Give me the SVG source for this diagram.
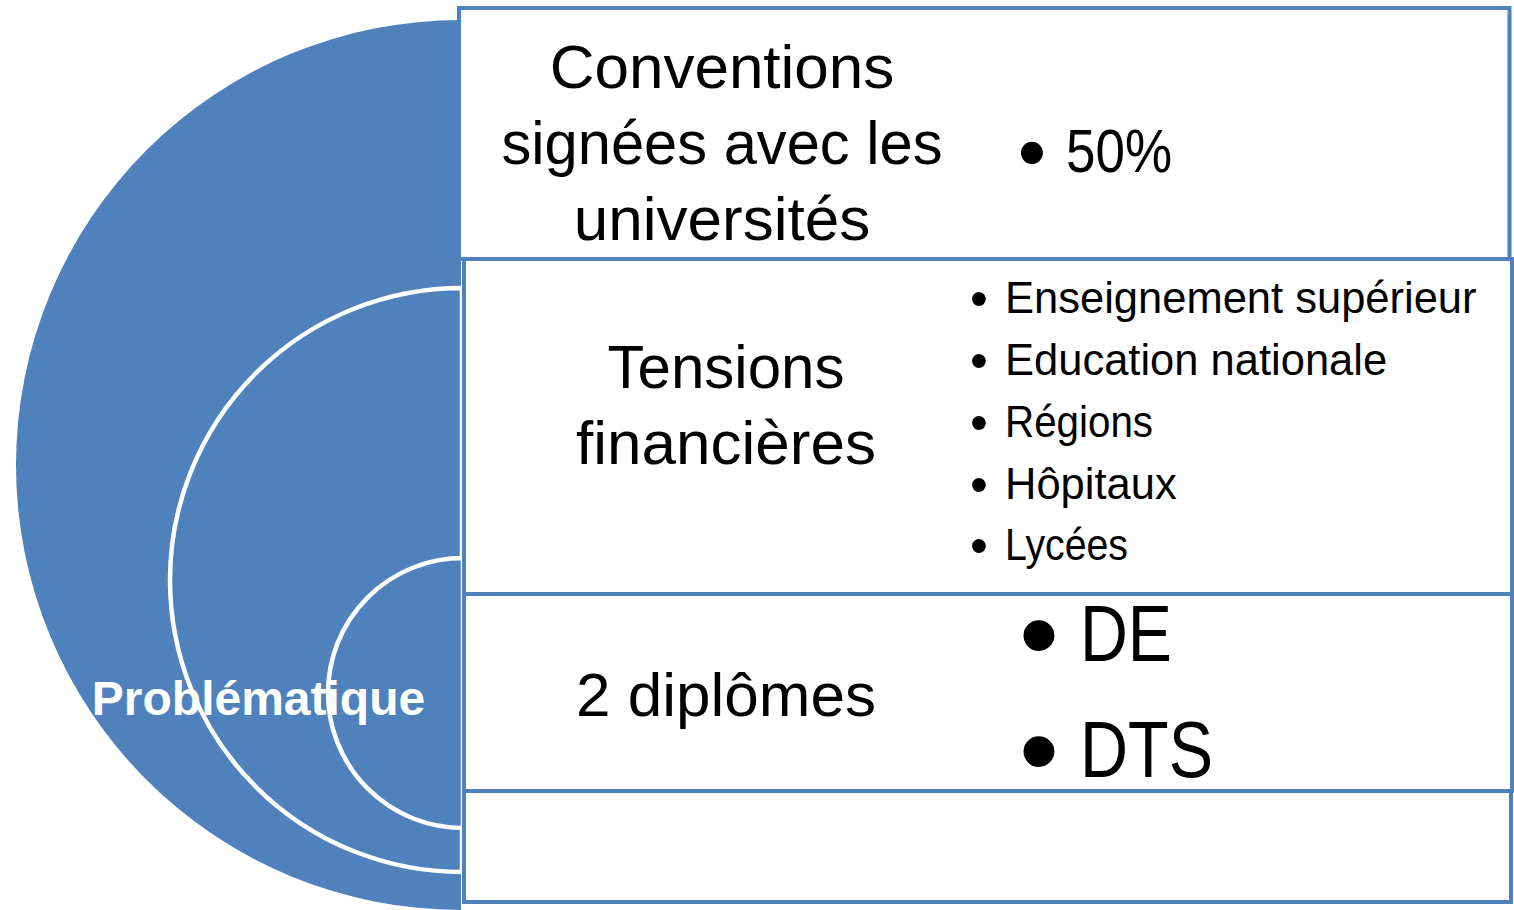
<svg xmlns="http://www.w3.org/2000/svg" width="1514" height="910" viewBox="0 0 1514 910">
  <style>
    .disc { fill: #4F81BD; }
    .ring { fill: #4F81BD; stroke: #FFFFFF; stroke-width: 4.5; }
    .box { fill: #FFFFFF; stroke: #4F81BD; stroke-width: 4; }
    .t { font-family: "Liberation Sans", Arial, sans-serif; fill: #000000; }
    .title { font-size: 62px; text-anchor: middle; }
    .item { font-size: 43.5px; }
    .ib { font-size: 51px; text-anchor: middle; }
    .lbl { font-family: "Liberation Sans", Arial, sans-serif; font-weight: bold; font-size: 48px; fill: #FFFFFF; text-anchor: middle; }
    .b { text-anchor: middle; }
  </style>
  <rect width="1514" height="910" fill="#FFFFFF"/>
  <g id="arcs">
    <path class="disc" d="M 461 20 A 445 445 0 0 0 461 910 Z"/>
    <path class="ring" d="M 462 288 A 292 292 0 0 0 462 872 Z"/>
    <path class="ring" d="M 463 558 A 135 135 0 0 0 463 828 Z"/>
  </g>
  <g id="node-conventions">
    <rect class="box" x="459" y="8" width="1050.5" height="251"/>
    <text class="t title" x="722" y="88">Conventions</text>
    <text class="t title" x="722" y="164" textLength="441" lengthAdjust="spacingAndGlyphs">signées avec les</text>
    <text class="t title" x="722" y="240">universités</text>
    <text class="t b" x="1032" y="180" font-size="81">•</text>
    <text class="t" x="1066" y="172" font-size="62" textLength="106" lengthAdjust="spacingAndGlyphs">50%</text>
  </g>
  <g id="node-tensions">
    <rect class="box" x="464" y="259" width="1048" height="335"/>
    <text class="t title" x="726" y="388" textLength="237" lengthAdjust="spacingAndGlyphs">Tensions</text>
    <text class="t title" x="726" y="464">financières</text>
    <text class="t ib" x="979" y="316">•</text>
    <text class="t item" x="1005" y="313">Enseignement supérieur</text>
    <text class="t ib" x="979" y="378">•</text>
    <text class="t item" x="1005" y="375">Education nationale</text>
    <text class="t ib" x="979" y="440">•</text>
    <text class="t item" x="1005" y="437" textLength="148" lengthAdjust="spacingAndGlyphs">Régions</text>
    <text class="t ib" x="979" y="502">•</text>
    <text class="t item" x="1005" y="499">Hôpitaux</text>
    <text class="t ib" x="979" y="563">•</text>
    <text class="t item" x="1005" y="560" textLength="123" lengthAdjust="spacingAndGlyphs">Lycées</text>
  </g>
  <g id="node-diplomes">
    <rect class="box" x="464" y="594" width="1048" height="197"/>
    <text class="t title" x="726" y="716">2 diplômes</text>
    <text class="t b" x="1039" y="673" font-size="114">•</text>
    <text class="t" x="1080" y="661" font-size="80" textLength="92" lengthAdjust="spacingAndGlyphs">DE</text>
    <text class="t b" x="1039" y="789" font-size="114">•</text>
    <text class="t" x="1080" y="777" font-size="80" textLength="133" lengthAdjust="spacingAndGlyphs">DTS</text>
  </g>
  <g id="node-empty">
    <rect class="box" x="464" y="791" width="1047" height="111"/>
  </g>
  <g id="node-problematique">
    <text class="lbl" x="258.5" y="715">Problématique</text>
  </g>
  <g id="connectors"></g>
</svg>
